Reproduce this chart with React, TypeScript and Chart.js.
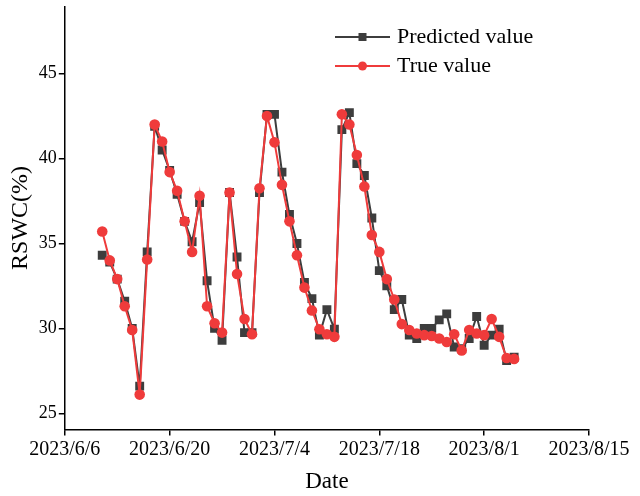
import React, { useEffect, useRef } from "react";
import { Chart, registerables } from "chart.js";

Chart.register(...registerables);

const START_DATE = "2023/6/6";
const dates = [
  "2023/6/11", "2023/6/12", "2023/6/13", "2023/6/14", "2023/6/15", "2023/6/16", "2023/6/17",
  "2023/6/18", "2023/6/19", "2023/6/20", "2023/6/21", "2023/6/22", "2023/6/23", "2023/6/24",
  "2023/6/25", "2023/6/26", "2023/6/27", "2023/6/28", "2023/6/29", "2023/6/30", "2023/7/1",
  "2023/7/2", "2023/7/3", "2023/7/4", "2023/7/5", "2023/7/6", "2023/7/7", "2023/7/8",
  "2023/7/9", "2023/7/10", "2023/7/11", "2023/7/12", "2023/7/13", "2023/7/14", "2023/7/15",
  "2023/7/16", "2023/7/17", "2023/7/18", "2023/7/19", "2023/7/20", "2023/7/21", "2023/7/22",
  "2023/7/23", "2023/7/24", "2023/7/25", "2023/7/26", "2023/7/27", "2023/7/28", "2023/7/29",
  "2023/7/30", "2023/7/31", "2023/8/1", "2023/8/2", "2023/8/3", "2023/8/4", "2023/8/5",
];
const predicted = [
  34.3, 33.9, 32.9, 31.6, 30.0, 26.6, 34.5,
  41.9, 40.5, 39.3, 37.9, 36.3, 35.1, 37.4,
  32.8, 30.0, 29.3, 38.0, 34.2, 29.75, 29.75,
  38.0, 42.6, 42.6, 39.2, 36.7, 35.0, 32.7,
  31.75, 29.6, 31.1, 29.95, 41.7, 42.7, 39.7,
  39.0, 36.5, 33.4, 32.5, 31.1, 31.7, 29.6,
  29.4, 30.0, 30.0, 30.5, 30.85, 28.9, 28.8,
  29.4, 30.7, 29.0, 29.6, 29.95, 28.1, 28.3,
];
const trueValues = [
  35.7, 34.0, 32.9, 31.3, 29.9, 26.1, 34.05,
  42.0, 41.0, 39.2, 38.1, 36.3, 34.5, 37.8,
  31.3, 30.3, 29.75, 38.0, 33.2, 30.55, 29.65,
  38.25, 42.5, 40.95, 38.45, 36.3, 34.3, 32.4,
  31.05, 29.95, 29.65, 29.5, 42.6, 42.0, 40.2,
  38.35, 35.5, 34.5, 32.9, 31.7, 30.25, 29.9,
  29.7, 29.6, 29.55, 29.4, 29.2, 29.65, 28.7,
  29.9, 29.7, 29.6, 30.55, 29.5, 28.25, 28.2,
];
const xTickLabels = ["2023/6/6", "2023/6/20", "2023/7/4", "2023/7/18", "2023/8/1", "2023/8/15"];
const yTickValues = [25, 30, 35, 40, 45];
const seriesNames = ["Predicted value", "True value"];

const FONT = "'Liberation Serif', 'Times New Roman', serif";
const PRED_COLOR = "#3d3d3d";
const TRUE_COLOR = "#ef3b3b";

const dayMs = 86400000;
const toUTC = (s: string) => {
  const [y, m, d] = s.split("/").map(Number);
  return Date.UTC(y, m - 1, d);
};
const dayOf = (s: string) => Math.round((toUTC(s) - toUTC(START_DATE)) / dayMs);

const legendPlugin = {
  id: "customLegend",
  afterDraw(chart: any) {
    const ctx = chart.ctx;
    const items = [
      { label: seriesNames[0], color: PRED_COLOR, style: "rect" },
      { label: seriesNames[1], color: TRUE_COLOR, style: "circle" },
    ];
    const x0 = 335;
    const x1 = 390;
    const rows = [37, 66];
    ctx.save();
    items.forEach((it, i) => {
      const y = rows[i];
      ctx.strokeStyle = it.color;
      ctx.lineWidth = 2;
      ctx.beginPath();
      ctx.moveTo(x0, y);
      ctx.lineTo(x1, y);
      ctx.stroke();
      ctx.fillStyle = it.color;
      const cx = (x0 + x1) / 2;
      if (it.style === "rect") {
        ctx.fillRect(cx - 4, y - 4, 8, 8);
      } else {
        ctx.beginPath();
        ctx.arc(cx, y, 4.5, 0, Math.PI * 2);
        ctx.fill();
      }
      ctx.fillStyle = "#000";
      ctx.font = `22px ${FONT}`;
      ctx.textBaseline = "middle";
      ctx.textAlign = "left";
      ctx.fillText(it.label, 397, y);
    });
    ctx.restore();
  },
};

export default function App() {
  const ref = useRef<HTMLCanvasElement | null>(null);
  useEffect(() => {
    if (!ref.current) return;
    const xs = dates.map(dayOf);
    const chart = new Chart(ref.current, {
      type: "line",
      data: {
        datasets: [
          {
            label: seriesNames[0],
            data: xs.map((x, i) => ({ x, y: predicted[i] })),
            borderColor: PRED_COLOR,
            backgroundColor: PRED_COLOR,
            borderWidth: 2,
            pointStyle: "rect",
            pointRadius: 6.3,
            pointBorderWidth: 0,
            order: 1,
          },
          {
            label: seriesNames[1],
            data: xs.map((x, i) => ({ x, y: trueValues[i] })),
            borderColor: TRUE_COLOR,
            backgroundColor: TRUE_COLOR,
            borderWidth: 2,
            pointStyle: "circle",
            pointRadius: 5.3,
            pointBorderWidth: 0,
            order: 0,
          },
        ],
      },
      options: {
        responsive: false,
        animation: false,
        devicePixelRatio: 1,
        layout: { padding: { left: 0, right: 51, top: 6, bottom: 0 } },
        plugins: {
          legend: { display: false },
          tooltip: { enabled: false },
        },
        scales: {
          x: {
            type: "linear",
            min: 0,
            max: 70,
            afterBuildTicks: (scale: any) => {
              scale.ticks = xTickLabels.map((s) => ({ value: dayOf(s) }));
            },
            ticks: {
              autoSkip: false,
              maxRotation: 0,
              color: "#000",
              font: { family: FONT, size: 20 },
              padding: 2,
              callback: (v: any) => {
                const idx = xTickLabels.findIndex((s) => dayOf(s) === v);
                return idx >= 0 ? xTickLabels[idx] : "";
              },
            },
            grid: {
              display: true,
              drawOnChartArea: false,
              drawTicks: true,
              tickLength: 6,
              color: "#000",
              lineWidth: 1.5,
            },
            border: { display: true, color: "#000", width: 1.5 },
            title: {
              display: true,
              text: "Date",
              color: "#000",
              font: { family: FONT, size: 23 },
              padding: { top: 5, bottom: 0 },
            },
          },
          y: {
            type: "linear",
            min: 24.05,
            max: 48.95,
            afterBuildTicks: (scale: any) => {
              scale.ticks = yTickValues.map((v) => ({ value: v }));
            },
            ticks: {
              color: "#000",
              font: { family: FONT, size: 18, lineHeight: 0.5 },
              padding: 2,
              callback: (v: any) => String(v),
            },
            grid: {
              display: true,
              drawOnChartArea: false,
              drawTicks: true,
              tickLength: 6,
              color: "#000",
              lineWidth: 1.5,
            },
            border: { display: true, color: "#000", width: 1.5 },
            title: {
              display: true,
              text: "RSWC(%)",
              color: "#000",
              font: { family: FONT, size: 24 },
              padding: { top: 6, bottom: 2 },
            },
          },
        },
      },
      plugins: [legendPlugin],
    });
    return () => chart.destroy();
  }, []);
  return (
    <div style={{ position: "fixed", left: 0, top: 0, width: 640, height: 496, background: "#fff" }}>
      <canvas ref={ref} width={640} height={496} style={{ display: "block" }} />
    </div>
  );
}
